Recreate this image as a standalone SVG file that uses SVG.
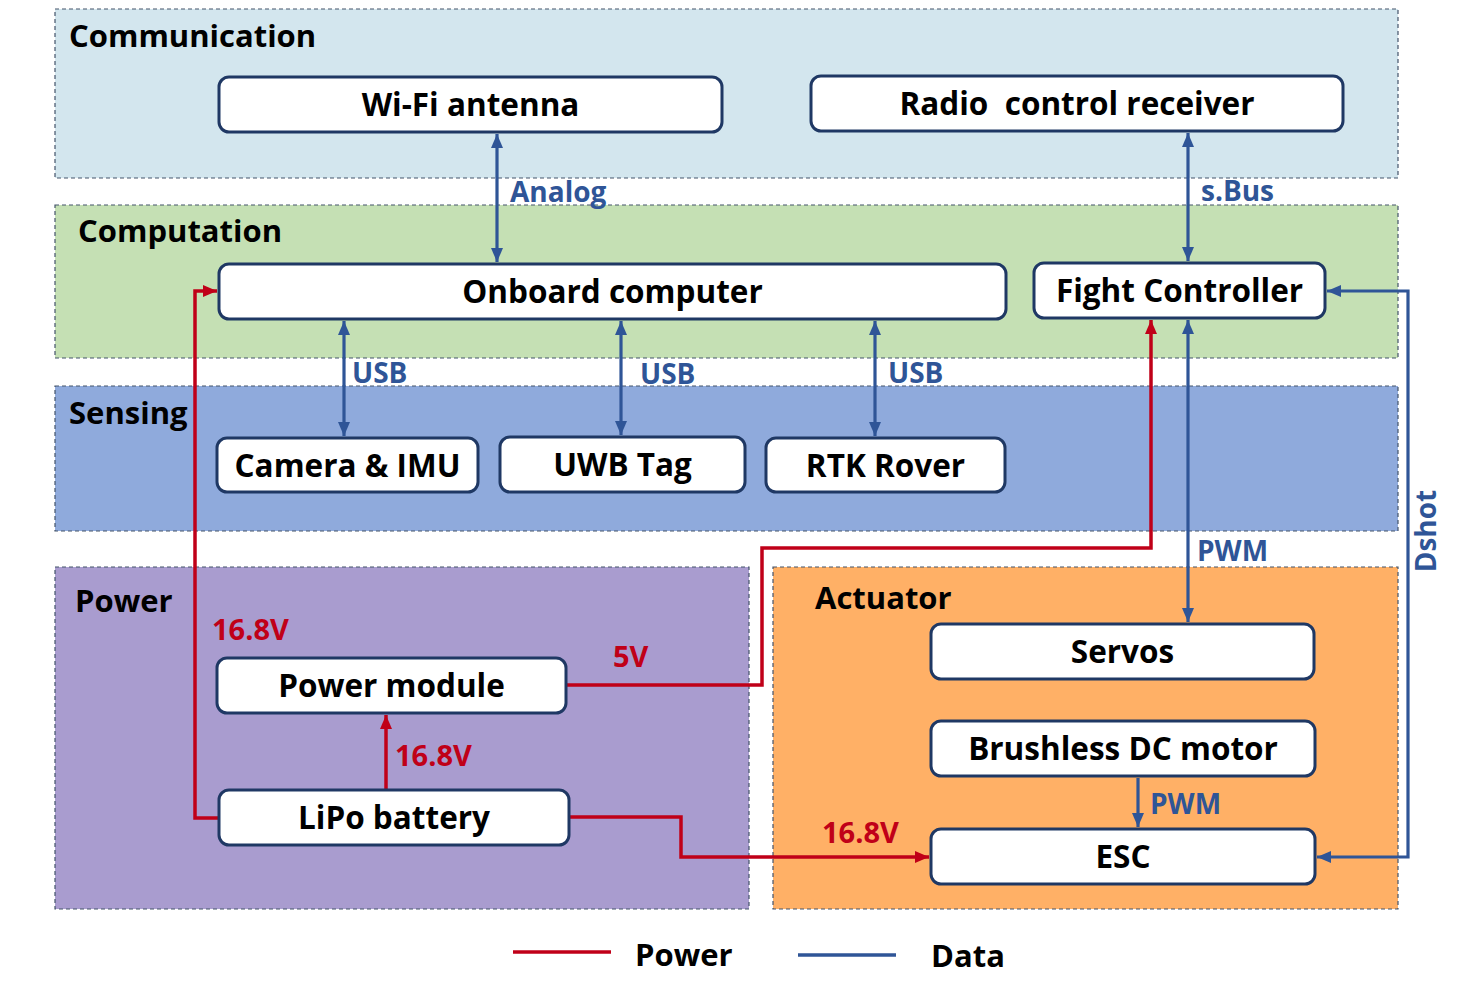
<svg xmlns="http://www.w3.org/2000/svg" width="1465" height="1000" viewBox="0 0 1465 1000">
<style>
.panel{stroke:#44546a;stroke-width:1.2;stroke-dasharray:4 3}
.node rect{fill:#fff;stroke:#1f3864;stroke-width:3}
.nt{font-family:"Open Sans","Noto Sans",sans-serif;font-weight:700;font-size:31.5px;fill:#000;text-anchor:middle}
.pt{font-family:"Open Sans","Noto Sans",sans-serif;font-weight:700;font-size:31px;fill:#000}
.bl{font-family:"Open Sans","Noto Sans",sans-serif;font-weight:700;font-size:28px;fill:#2f5597}
.rl{font-family:"Open Sans","Noto Sans",sans-serif;font-weight:700;font-size:29px;fill:#c00018}
.data{fill:none;stroke:#2f5597;stroke-width:3.2}
.pow{fill:none;stroke:#c00018;stroke-width:3.5}
</style>
<defs>
<marker id="ab" markerUnits="userSpaceOnUse" markerWidth="16" markerHeight="14" refX="14" refY="6" orient="auto-start-reverse" viewBox="0 0 16 12"><path d="M0,0 L14,6 L0,12 Z" fill="#2f5597"/></marker>
<marker id="ar" markerUnits="userSpaceOnUse" markerWidth="16" markerHeight="14" refX="14" refY="6" orient="auto-start-reverse" viewBox="0 0 16 12"><path d="M0,0 L14,6 L0,12 Z" fill="#c00018"/></marker>
</defs>
<rect width="1465" height="1000" fill="#fff"/>
<g id="panels">
<rect class="panel" x="55" y="9" width="1343" height="169" fill="#d3e6ee"/>
<rect class="panel" x="55" y="205" width="1343" height="153" fill="#c5e0b4"/>
<rect class="panel" x="55" y="386" width="1343" height="145" fill="#8faadc"/>
<rect class="panel" x="55" y="567" width="694" height="342" fill="#a99ccf"/>
<rect class="panel" x="773" y="567" width="625" height="342" fill="#ffb066"/>
<text class="pt" x="69" y="47">Communication</text>
<text class="pt" x="78" y="242">Computation</text>
<text class="pt" x="69" y="424">Sensing</text>
<text class="pt" x="75" y="612">Power</text>
<text class="pt" x="815" y="609">Actuator</text>
</g>
<g id="connectors">
<line class="data" x1="497" y1="134" x2="497" y2="262" marker-start="url(#ab)" marker-end="url(#ab)"/>
<line class="data" x1="1188" y1="133" x2="1188" y2="261" marker-start="url(#ab)" marker-end="url(#ab)"/>
<line class="data" x1="344" y1="321" x2="344" y2="436" marker-start="url(#ab)" marker-end="url(#ab)"/>
<line class="data" x1="621" y1="321" x2="621" y2="435" marker-start="url(#ab)" marker-end="url(#ab)"/>
<line class="data" x1="875" y1="321" x2="875" y2="436" marker-start="url(#ab)" marker-end="url(#ab)"/>
<line class="data" x1="1188" y1="320" x2="1188" y2="622" marker-start="url(#ab)" marker-end="url(#ab)"/>
<line class="data" x1="1138" y1="778" x2="1138" y2="827" marker-end="url(#ab)"/>
<polyline class="data" points="1317,857 1408,857 1408,291 1327,291" marker-start="url(#ab)" marker-end="url(#ab)"/>
<polyline class="pow" points="219,818 195,818 195,291 217,291" marker-end="url(#ar)"/>
<line class="pow" x1="386" y1="790" x2="386" y2="715" marker-end="url(#ar)"/>
<polyline class="pow" points="566,685 762,685 762,548 1151,548 1151,320" marker-end="url(#ar)"/>
<polyline class="pow" points="569,817 681,817 681,857 929,857" marker-end="url(#ar)"/>
<text class="bl" x="510" y="202">Analog</text>
<text class="bl" x="1201" y="201">s.Bus</text>
<text class="bl" x="352" y="383">USB</text>
<text class="bl" x="640" y="384">USB</text>
<text class="bl" x="888" y="383">USB</text>
<text class="bl" x="1197" y="561">PWM</text>
<text class="bl" x="1150" y="814">PWM</text>
<text class="bl" x="1436" y="531" text-anchor="middle" transform="rotate(-90 1436 531)">Dshot</text>
<text class="rl" x="212" y="640">16.8V</text>
<text class="rl" x="613" y="667">5V</text>
<text class="rl" x="395" y="766">16.8V</text>
<text class="rl" x="822" y="843">16.8V</text>
</g>
<g id="wifi" class="node"><rect x="219" y="77" width="503" height="55" rx="10"/><text class="nt" x="470.5" y="116">Wi-Fi antenna</text></g>
<g id="radio" class="node"><rect x="811" y="76" width="532" height="55" rx="10"/><text class="nt" x="1077" y="115">Radio &#160;control receiver</text></g>
<g id="onboard" class="node"><rect x="219" y="264" width="787" height="55" rx="10"/><text class="nt" x="612.5" y="303">Onboard computer</text></g>
<g id="fc" class="node"><rect x="1034" y="263" width="291" height="55" rx="10"/><text class="nt" x="1179.5" y="302">Fight Controller</text></g>
<g id="camera" class="node"><rect x="217" y="438" width="261" height="54" rx="10"/><text class="nt" x="347.5" y="477">Camera &amp; IMU</text></g>
<g id="uwb" class="node"><rect x="500" y="437" width="245" height="55" rx="10"/><text class="nt" x="622.5" y="476">UWB Tag</text></g>
<g id="rtk" class="node"><rect x="766" y="438" width="239" height="54" rx="10"/><text class="nt" x="885.5" y="477">RTK Rover</text></g>
<g id="powermodule" class="node"><rect x="217" y="658" width="349" height="55" rx="10"/><text class="nt" x="391.5" y="697">Power module</text></g>
<g id="lipo" class="node"><rect x="219" y="790" width="350" height="55" rx="10"/><text class="nt" x="394" y="829">LiPo battery</text></g>
<g id="servos" class="node"><rect x="931" y="624" width="383" height="55" rx="10"/><text class="nt" x="1122.5" y="663">Servos</text></g>
<g id="bldc" class="node"><rect x="931" y="721" width="384" height="55" rx="10"/><text class="nt" x="1123" y="760">Brushless DC motor</text></g>
<g id="esc" class="node"><rect x="931" y="829" width="384" height="55" rx="10"/><text class="nt" x="1123" y="868">ESC</text></g>
<g id="legend">
<line x1="513" y1="952" x2="611" y2="952" stroke="#c00018" stroke-width="3.5"/>
<text class="pt" x="635" y="966">Power</text>
<line x1="798" y1="955" x2="896" y2="955" stroke="#2f5597" stroke-width="3.5"/>
<text class="pt" x="931" y="967">Data</text>
</g>
</svg>
